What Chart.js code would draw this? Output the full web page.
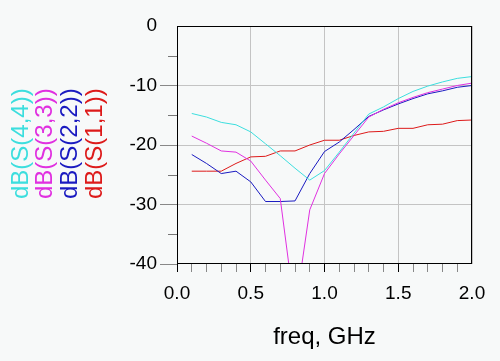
<!DOCTYPE html>
<html>
<head>
<meta charset="utf-8">
<script src="https://cdn.jsdelivr.net/npm/chart.js@4.4.1/dist/chart.umd.min.js"></script>
<style>
  body { margin: 0; background: #f7f9f9; }
  canvas { display: block; }
</style>
</head>
<body>
<canvas id="chartS" width="500" height="361"></canvas>
<script>
const freq = [0.1, 0.2, 0.3, 0.4, 0.5, 0.6, 0.7, 0.8, 0.9, 1.0,
              1.1, 1.2, 1.3, 1.4, 1.5, 1.6, 1.7, 1.8, 1.9, 2.0];
const s44 = [-14.7, -15.3, -16.2, -16.6, -17.8, -19.8, -21.8, -23.9, -25.9, -24.3,
             -21.2, -18.0, -14.8, -13.6, -12.2, -11.0, -10.1, -9.4, -8.8, -8.5];
const s33 = [-18.5, -19.7, -21.0, -21.2, -22.7, -25.9, -29.0, -48.0, -30.9, -24.8,
             -21.5, -18.4, -15.3, -14.0, -12.9, -12.0, -11.2, -10.6, -10.0, -9.6];
const s22 = [-21.6, -23.1, -24.8, -24.4, -26.2, -29.5, -29.5, -29.4, -24.8, -21.1,
             -19.5, -17.4, -15.2, -14.1, -13.1, -12.2, -11.4, -10.9, -10.3, -10.0];
const s11 = [-24.4, -24.4, -24.4, -23.1, -22.0, -21.9, -21.0, -21.0, -20.0, -19.2,
             -19.2, -18.4, -17.8, -17.7, -17.2, -17.2, -16.6, -16.5, -15.9, -15.8];
const labels = ["dB(S(4,4))", "dB(S(3,3))", "dB(S(2,2))", "dB(S(1,1))"];
const colors = ["#3cdede", "#e030e0", "#1a1ac0", "#dd1a1a"];
const xTicks = ["0.0", "0.5", "1.0", "1.5", "2.0"];

function pts(arr) {
    return arr.map((v, i) => ({ x: freq[i], y: v }));
}

function isMajor(v) {
    return Math.abs(v * 2 - Math.round(v * 2)) < 1e-6;
}

// rotated legend on the left, plus frame and minor y ticks
const extras = {
    id: "extras",
    afterDraw(chart) {
        const ctx = chart.ctx;
        const a = chart.chartArea;
        const y = chart.scales.y;
        ctx.save();
        ctx.strokeStyle = "#777";
        ctx.lineWidth = 1;
        [-5, -15, -25, -35].forEach(v => {
            const py = Math.round(y.getPixelForValue(v)) + 0.5;
            ctx.beginPath();
            ctx.moveTo(a.left - 9, py);
            ctx.lineTo(a.left, py);
            ctx.stroke();
        });
        ctx.strokeStyle = "#000";
        ctx.strokeRect(Math.round(a.left) + 0.5, Math.round(a.top) + 0.5,
            Math.round(a.right - a.left) - 1, Math.round(a.bottom - a.top) - 1);

        ctx.font = "24px 'Liberation Sans', Arial, sans-serif";
        ctx.textAlign = "left";
        ctx.textBaseline = "alphabetic";
        const baseX = [28, 52, 77, 102];
        chart.data.datasets.forEach((ds, i) => {
            ctx.save();
            ctx.translate(baseX[i], 199);
            ctx.rotate(-Math.PI / 2);
            ctx.fillStyle = ds.borderColor;
            ctx.fillText(ds.label, 0, 0);
            ctx.restore();
        });
        ctx.restore();
    }
};

const series = [s44, s33, s22, s11];

var chartS = new Chart(document.getElementById("chartS").getContext("2d"), {
    type: "line",
    data: {
        datasets: series.map((s, i) => ({
            label: labels[i],
            data: pts(s),
            borderColor: colors[i],
            borderWidth: 1,
            pointRadius: 0,
            tension: 0,
            fill: false,
        })),
    },
    options: {
        responsive: false,
        animation: false,
        layout: { padding: { left: 0, right: 28, top: 26, bottom: 0 } },
        plugins: { legend: { display: false }, tooltip: { enabled: false } },
        scales: {
            x: {
                type: "linear",
                min: 0,
                max: 2,
                afterFit: (s) => { s.height = 97; },
                border: { display: false },
                grid: {
                    tickLength: 8,
                    color: (c) => (c.tick && isMajor(c.tick.value) ? "#c4c4c4" : "transparent"),
                    tickColor: (c) => {
                        if (!c.tick || c.tick.value > 1.99) return "transparent";
                        return isMajor(c.tick.value) ? "#000" : "#888";
                    },
                },
                ticks: {
                    stepSize: 0.1,
                    autoSkip: false,
                    maxRotation: 0,
                    padding: 10,
                    color: "#000",
                    font: { family: "'Liberation Sans', Arial, sans-serif", size: 19 },
                    callback: (v) => (isMajor(v) ? xTicks[Math.round(v * 2)] : ""),
                },
                title: {
                    display: true,
                    text: "freq, GHz",
                    color: "#000",
                    font: { family: "'Liberation Sans', Arial, sans-serif", size: 24 },
                    padding: { top: 0, bottom: 9 },
                },
            },
            y: {
                min: -40,
                max: 0,
                afterFit: (s) => { s.width = 177; },
                border: { display: false },
                grid: {
                    tickLength: 17,
                    color: (c) => (c.tick && c.tick.value < -1 && c.tick.value > -39 ? "#c4c4c4" : "transparent"),
                    tickColor: (c) => (c.tick && c.tick.value < -1 ? "#888" : "transparent"),
                },
                ticks: {
                    stepSize: 10,
                    padding: 3,
                    color: "#000",
                    font: { family: "'Liberation Sans', Arial, sans-serif", size: 19 },
                },
            },
        },
    },
    plugins: [extras],
});
</script>
</body>
</html>
